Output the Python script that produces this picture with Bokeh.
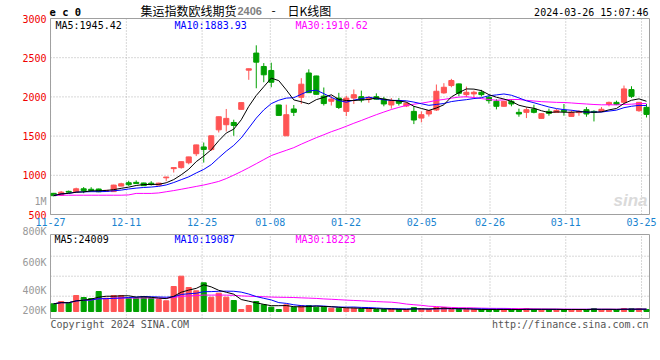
import numpy as np
import pandas as pd
from bokeh.plotting import figure
from bokeh.models import Range1d, Label, ColumnDataSource
from bokeh.core.properties import value
from bokeh.embed import file_html
from bokeh.resources import INLINE

# ---------------- data ----------------
holidays = ["2024-01-01", "2024-02-09", "2024-02-12", "2024-02-13", "2024-02-14", "2024-02-15", "2024-02-16"]
days = [d for d in pd.bdate_range("2023-11-27", "2024-03-26") if d.strftime("%Y-%m-%d") not in holidays]
dates = [d.strftime("%m-%d") for d in days]

opens = [770, 745, 795, 790, 828, 822, 825, 795, 792, 862,
         905, 910, 902, 900, 875, 968, 1085, 1098, 1160, 1275,
         1362, 1328, 1580, 1645, 1674, 1841, 2341, 2559, 2388, 2337,
         1897, 1504, 1846, 1995, 2305, 2267, 2010, 1944, 1985, 1815,
         1985, 2003, 1970, 2003, 1972, 1897, 1950, 1884, 1815, 1730,
         1782, 1833, 2051, 2145, 2166, 2029, 2038, 2059, 1995, 1944,
         1880, 1944, 1803, 1803, 1846, 1726, 1815, 1803, 1830, 1751,
         1800, 1837, 1815, 1815, 1905, 1930, 1931, 2093, 1824, 1867]
highs = [775, 800, 805, 842, 850, 848, 830, 812, 880, 905,
         930, 935, 905, 925, 905, 980, 1100, 1176, 1236, 1390,
         1418, 1505, 1748, 1846, 1709, 1928, 2360, 2658, 2431, 2436,
         1900, 1901, 1897, 2239, 2352, 2270, 2120, 2015, 2052, 2015,
         2095, 2080, 2005, 2045, 2000, 1985, 1985, 1935, 1884, 1815,
         1830, 2158, 2175, 2230, 2170, 2132, 2080, 2090, 2015, 1970,
         1944, 1970, 1850, 1867, 1900, 1790, 1850, 1845, 1910, 1830,
         1830, 1870, 1830, 1870, 1940, 1952, 2145, 2136, 1931, 1910]
lows = [735, 740, 775, 785, 772, 790, 785, 790, 790, 860,
        865, 890, 865, 870, 872, 925, 1035, 1085, 1140, 1245,
        1162, 1310, 1546, 1559, 1504, 1840, 2218, 2110, 2187, 2123,
        1764, 1504, 1756, 1910, 2054, 2030, 1890, 1890, 1845, 1755,
        1910, 1930, 1925, 1965, 1880, 1850, 1890, 1870, 1653, 1675,
        1750, 1820, 2040, 2123, 2010, 1995, 1985, 2005, 1915, 1841,
        1875, 1880, 1747, 1730, 1790, 1725, 1760, 1795, 1760, 1750,
        1760, 1747, 1687, 1810, 1880, 1895, 1918, 1987, 1810, 1738]
closes = [740, 785, 785, 828, 805, 805, 790, 808, 875, 892,
          880, 895, 868, 882, 900, 978, 1098, 1174, 1235, 1388,
          1330, 1504, 1747, 1726, 1636, 1927, 2359, 2443, 2282, 2187,
          1764, 1773, 1803, 2162, 2054, 2033, 1915, 1972, 1865, 1985,
          2028, 1960, 1995, 1970, 1910, 1950, 1918, 1918, 1705, 1773,
          1824, 2072, 2123, 2209, 2046, 2059, 2059, 2029, 1952, 1880,
          1944, 1910, 1782, 1837, 1803, 1786, 1790, 1828, 1815, 1803,
          1815, 1782, 1803, 1842, 1930, 1905, 2102, 2007, 1931, 1777]
# 30-day average as drawn for the first sessions (its window reaches back before 11-27)
ma30_early = [746, 746, 746, 746, 746, 746, 746, 746, 746, 746,
              750, 769, 769, 769, 775, 790, 805, 822, 840, 858,
              876, 898, 922, 958, 1002, 1048, 1097, 1148, 1200]
volumes = [77000, 100000, 87000, 160000, 140000, 130000, 200000, 133000, 160000, 160000,
           133000, 133000, 150000, 133000, 120000, 107000, 250000, 353000, 240000, 207000,
           287000, 143000, 183000, 143000, 110000, 20000, 60000, 100000, 67000, 43000,
           20000, 67000, 43000, 60000, 60000, 43000, 43000, 33000, 33000, 33000,
           33000, 27000, 27000, 20000, 20000, 27000, 20000, 20000, 40000, 27000,
           20000, 40000, 40000, 20000, 20000, 20000, 20000, 20000, 20000, 20000,
           20000, 20000, 20000, 30000, 20000, 20000, 20000, 20000, 20000, 20000,
           20000, 20000, 30000, 20000, 20000, 16000, 30000, 28000, 26000, 20000]

price_ticks = [500, 1000, 1500, 2000, 2500, 3000]
price_tick_labels = ["500", "1000", "1500", "2000", "2500", "3000"]
x_tick_labels = ["11-27", "12-11", "12-25", "01-08", "01-22", "02-05", "02-26", "03-11", "03-25"]
vol_tick_labels = ["1M", "800K", "600K", "400K", "200K"]
vol_tick_values = [1103000, 800000, 493000, 210000, 10000]   # where Sina prints them
vol_grid_values = [553000, 353000, 153000]

price_legend = ["MA5:1945.42", "MA10:1883.93", "MA30:1910.62"]
vol_legend = ["MA5:24009", "MA10:19087", "MA30:18223"]
title_code = "e c 0"
title_name = "集运指数欧线期货"
title_contract = "2406"
title_kind = "日K线图"
stamp = "2024-03-26 15:07:46"
footer_left = "Copyright 2024 SINA.COM"
footer_right = "http://finance.sina.com.cn"

# ---------------- derived ----------------
n = len(closes)
idx = np.arange(n)
o = np.array(opens, float); c = np.array(closes, float)
h = np.array(highs, float); l = np.array(lows, float)
RED, GREEN = "#ff5454", "#00a000"
colors = [RED if cc >= oo else GREEN for oo, cc in zip(o, c)]
cs = pd.Series(c)
ma5 = cs.rolling(5, min_periods=1).mean().values
ma10 = cs.rolling(10, min_periods=1).mean().values
ma30 = cs.rolling(30, min_periods=1).mean().values
ma30[:len(ma30_early)] = ma30_early
vs = pd.Series(np.array(volumes, float))
vma5 = vs.rolling(5, min_periods=1).mean().values
vma10 = vs.rolling(10, min_periods=1).mean().values
vma30 = vs.rolling(30, min_periods=1).mean().values

tick_idx = [dates.index(t) for t in x_tick_labels]
# Sina's date grid runs at a slightly wider pitch than the candles
grid_pos = [k * 1.0096 - 0.41 for k in tick_idx]

# ---------------- layout (pixels) ----------------
W, H = 660, 340
PL, PR = 50, 649          # panel left / right
MT, MB = 18, 214          # price panel top / bottom
VT, VB = 234, 318         # volume panel top / bottom
XSTART, XEND = -0.42, 79.4
PMIN, PMAX = 500, 3000
VMAX, UV = 770000, 10000.0
VMIN = VMAX - (VB - VT) * UV
UX = (XEND - XSTART) / (PR - PL)
UP = (PMAX - PMIN) / (MB - MT)

p = figure(width=W, height=H, output_backend="svg", toolbar_location=None,
           x_range=Range1d(XSTART - PL * UX, XEND + (W - PR) * UX),
           y_range=Range1d(PMIN - (H - MB) * UP, PMAX + MT * UP),
           x_axis_location=None, y_axis_location=None, title_location=None,
           min_border=0, min_border_left=0, min_border_right=0,
           min_border_top=0, min_border_bottom=0,
           background_fill_color="white", border_fill_color="white")
p.outline_line_color = None
p.grid.visible = False
p.extra_y_ranges = {"vol": Range1d(VMIN - (H - VB) * UV, VMAX + VT * UV)}

src = ColumnDataSource(dict(x=idx, o=o, h=h, l=l, c=c,
                            top=np.maximum(o, c), bottom=np.minimum(o, c),
                            color=colors, vol=np.array(volumes, float)))

MONO = "DejaVu Sans Mono"
GRID = "#b0b0b0"
FRAME = "#a0a0a0"

# grids and frames
p.segment(x0=XSTART, y0=price_ticks[1:-1], x1=XEND, y1=price_ticks[1:-1],
          line_color=GRID, line_dash="1 2", line_width=1)
p.segment(x0=grid_pos, y0=PMIN, x1=grid_pos, y1=PMAX,
          line_color=GRID, line_dash="1 2", line_width=1)
p.segment(x0=XSTART, y0=vol_grid_values, x1=XEND, y1=vol_grid_values,
          line_color=GRID, line_dash="1 2", line_width=1, y_range_name="vol")
p.segment(x0=grid_pos, y0=VMIN, x1=grid_pos, y1=VMAX,
          line_color=GRID, line_dash="1 2", line_width=1, y_range_name="vol")
p.quad(left=[XSTART], right=[XEND], bottom=[PMIN], top=[PMAX],
       fill_color=None, line_color=FRAME, line_width=1)
p.quad(left=[XSTART], right=[XEND], bottom=[VMIN], top=[VMAX],
       fill_color=None, line_color=FRAME, line_width=1, y_range_name="vol")

# watermark
p.add_layout(Label(x=XEND, y=PMIN, x_offset=-2, y_offset=14, text="sina",
                   text_font="Liberation Sans", text_font_size="17px",
                   text_font_style="bold italic", text_color="#dadada",
                   text_align="right", text_baseline="middle"))

# candles
p.segment(x0="x", y0="h", x1="x", y1="l", color="color", line_width=1, source=src)
p.vbar(x="x", width=0.68, top="top", bottom="bottom", fill_color="color",
       line_color="color", line_width=1, source=src)
p.line(idx, ma30, color="#ff00ff", line_width=1)
p.line(idx, ma10, color="#0000ff", line_width=1)
p.line(idx, ma5, color="#000000", line_width=1)

# volume
p.vbar(x="x", width=0.68, top="vol", bottom=0, fill_color="color", line_color="color",
       line_width=1, source=src, y_range_name="vol")
p.line(idx, vma30, color="#ff00ff", line_width=1, y_range_name="vol")
p.line(idx, vma10, color="#0000ff", line_width=1, y_range_name="vol")
p.line(idx, vma5, color="#000000", line_width=1, y_range_name="vol")

# axis tick labels
p.text(x=[XSTART] * len(price_ticks), y=price_ticks, text=price_tick_labels, x_offset=-4,
       text_align="right", text_baseline="middle", text_color="#f00000",
       text_font=value(MONO), text_font_size=value("10px"))
p.text(x=grid_pos, y=[PMIN - 7.5 * UP] * len(grid_pos), text=x_tick_labels,
       text_align="center", text_baseline="middle", text_color="#1a84d0",
       text_font=value(MONO), text_font_size=value("10px"))
p.text(x=[XSTART] * len(vol_tick_values), y=vol_tick_values, text=vol_tick_labels, x_offset=-4,
       text_align="right", text_baseline="middle", text_color="#999999",
       text_font=value(MONO), text_font_size=value("10px"), y_range_name="vol")


def lab(x, y, text, dx=0, dy=0, color="black", size="10px", font=MONO,
        align="left", style="normal", yr="default"):
    p.add_layout(Label(x=x, y=y, x_offset=dx, y_offset=dy, text=text,
                       text_color=color, text_font_size=size, text_font=font,
                       text_align=align, text_baseline="middle",
                       text_font_style=style, y_range_name=yr))

# header
lab(XSTART, PMAX, title_code, dx=-1, dy=6.3, size="10.5px", style="bold")
lab(XSTART, PMAX, title_name, dx=90, dy=8.5, size="12px", font="Noto Sans CJK SC")
lab(XSTART, PMAX, title_contract, dx=187, dy=7.2, size="11px", font="Liberation Sans",
    color="#808080", style="bold")
lab(XSTART, PMAX, "-", dx=221, dy=8, size="12px", font="Noto Sans CJK SC")
lab(XSTART, PMAX, title_kind, dx=237, dy=8.5, size="12px", font="Noto Sans CJK SC")
lab(XEND, PMAX, stamp, dx=-1, dy=6, align="right")
for txt, dx, col in zip(price_legend, [5, 124, 245], ["#000000", "#0000ff", "#ff00ff"]):
    lab(XSTART, PMAX, txt, dx=dx, dy=-6.5, color=col)
for txt, dx, col in zip(vol_legend, [4, 124, 245], ["#000000", "#0000ff", "#ff00ff"]):
    lab(XSTART, VMAX, txt, dx=dx, dy=-4.5, color=col, yr="vol")
lab(XSTART, VMIN, footer_left, dx=0, dy=-6, color="#555555", yr="vol")
lab(XEND, VMIN, footer_right, dx=-1, dy=-6, color="#555555", align="right", yr="vol")

open("out.html", "w").write(file_html(p, INLINE))
